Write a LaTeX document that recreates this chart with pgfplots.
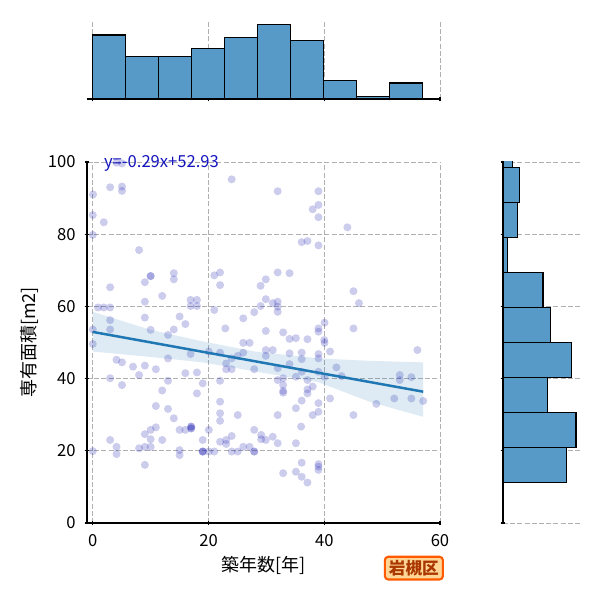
\documentclass[border=0pt]{standalone}
\usepackage{fontspec}
\setmainfont{Noto Sans CJK JP}
\usepackage{pgfplots}
\usepackage{pgfplotstable}
\pgfplotsset{compat=1.18}
\definecolor{histc}{RGB}{87,153,199}
\definecolor{tabblue}{RGB}{31,119,180}
\definecolor{ptc}{RGB}{25,25,175}
\definecolor{gridc}{RGB}{176,176,176}
\definecolor{eqc}{RGB}{20,20,190}
\definecolor{boxfill}{RGB}{255,214,150}
\definecolor{boxdraw}{RGB}{255,90,0}
\definecolor{boxtext}{RGB}{170,55,0}

\pgfplotstableread{
x y
0 85.3
5.05 99.6
4.1 99.8
24.0 95.2
8.0 75.6
9.0 66.7
14.0 69.2
14.0 67.5
12.0 62.9
9.0 61.3
21.0 68.6
22.0 69.4
22.0 65.9
29.9 67.5
29.0 65.7
29.9 62.0
0.9 59.7
1.9 59.7
3.0 59.7
0 53.6
3 56.2
9 56.9
10 53.5
15 57.2
16 55.1
14 53.6
13 52.1
16.9 61.8
18.0 61.8
16.9 60.1
18.0 60.1
21.0 59.0
22.9 53.9
26.0 56.7
31.95 91.9
39.0 91.9
39.0 88.1
38.0 86.9
39.0 84.7
44.0 81.9
36.1 77.8
37.1 78.1
39.0 76.9
34.0 69.2
31.1 60.9
31.95 61.3
31.95 59.9
31.95 58.5
45.05 64.2
46.0 60.9
35.1 51.2
37.1 50.9
39.0 53.9
45.05 53.9
40.0 50.7
4.1 45.2
5.05 44.5
6.95 43.3
9.0 43.6
8.0 41.0
10.9 42.6
13.0 45.6
18.0 41.7
3 40.1
5.05 38.2
13 39.4
12.0 36.7
19.0 38.7
18.0 35.9
22.0 39.4
20.05 47.5
22.0 47.2
23.05 44.2
23.05 42.6
24.0 42.6
25.05 46.3
26.0 47.2
27.1 49.9
26.0 49.9
27.9 42.6
29.9 47.9
29.9 46.3
22.0 30.4
22.0 28.3
25.05 29.9
10.9 32.4
14.0 29.0
9.0 24.6
10 23.2
8.0 20.7
9.0 21.1
12 23.0
3 23.0
4.1 21.1
0 19.9
9 16.1
15.0 25.8
16.0 25.8
15.0 20.2
15.0 18.8
20.05 25.8
20.05 19.8
22.0 22.5
23.05 23.0
23.05 21.9
24.0 24.1
25.05 19.8
27.1 21.1
27.9 25.8
40.05 49.9
31.1 47.9
36.1 47.2
36.1 45.4
39 45.6
41.0 47.5
34.0 44.0
31.95 42.9
43.0 40.7
36.1 41.9
35.1 40.5
40.05 40.5
32.9 40.1
32.9 38.2
32.9 36.1
37.1 39.6
37.1 37.0
37.1 35.9
38.0 37.8
36.1 33.9
39.0 33.2
41.0 34.5
35.1 31.8
38.0 29.9
39.0 30.8
45.05 29.9
36.0 26.7
49.0 33.0
52.1 34.5
57.1 33.8
56.1 47.9
31.1 23.9
31.95 22.1
35.1 22.1
36.1 16.7
32.9 13.8
35.1 14.2
36.1 12.8
39.0 15.6
39.0 14.7
}\ptsA

\pgfplotstableread{
x y
0.05 91.0
0 79.8
1.9 83.3
3.0 93.0
5.05 93.2
5.05 92.0
3.0 65.3
29.0 60.1
27.9 58.4
29.9 53.2
0 49.6
3 53.6
31.95 69.4
32.9 52.8
34.0 51.0
39.0 53.0
40.05 55.5
16.9 46.8
16.0 41.5
24.0 45.6
22.0 33.6
13.0 31.6
10 25.8
10.9 26.5
10 21.1
4.1 19.1
19.0 23.0
21.0 19.8
24.0 19.8
26.0 21.1
29.1 24.4
29.1 23.2
29.9 23.0
34.0 47.0
39.0 46.8
42.1 43.1
39.0 41.9
31.95 39.6
32.9 36.6
31.95 29.9
55.05 34.5
53.05 41.0
53.05 39.6
55.05 40.4
37.1 11.2
39.0 16.3
10.0 68.4
17.0 26.2
17.0 26.7
27.9 19.8
19.0 19.8
}\ptsB

\pgfplotstableread{
x y
10.0 68.4
17.0 26.2
17.0 26.7
27.9 19.8
19.0 19.8
19.0 19.8
}\ptsC

\pgfplotsset{
 jstyle/.style={scale only axis, tick align=outside, major tick length=3.5pt,
   tick style={black,line width=0.8pt},
   grid style={gridc, line width=0.7pt, dash pattern=on 3.6pt off 1.6pt},
   /pgf/number format/assume math mode=true,
   tick label style={font=\fontsize{12}{14}\selectfont},
   label style={font=\fontsize{13}{15}\selectfont}},
 ptstyle/.style={only marks, mark=*, mark size=2.9pt, draw opacity=0, fill=ptc, fill opacity=0.22,
  mark options={draw opacity=0, fill=ptc, fill opacity=0.22}},
}

\begin{document}
\begin{tikzpicture}
\path (0,0) rectangle (433.62pt,433.62pt);
% main joint axis
\begin{axis}[jstyle, at={(62.87pt,55.65pt)}, anchor=south west,
  width=255.11pt, height=260.89pt, xmin=-1, xmax=60, ymin=0, ymax=100,
  axis lines=left, xtick={0,20,40,60}, ytick={0,20,40,60,80,100},
  axis line style={black,line width=0.9pt,-},
  yticklabel style={xshift=-3pt}, xticklabel style={yshift=-3pt},
  grid=major, clip mode=individual,
  xlabel={築年数[年]}, ylabel={専有面積[m2]}]
\addplot[ptstyle] table[x=x,y=y] {\ptsA};
\addplot[ptstyle] table[x=x,y=y] {\ptsB};
\addplot[ptstyle] table[x=x,y=y] {\ptsC};
\addplot[fill=tabblue, fill opacity=0.15, draw=none] coordinates {
 (0,58.5) (10,53.5) (19,50.3) (28,47.5) (39,45.6) (48,44.9) (57.1,44.5)
 (57.1,29.4) (48,33.5) (39,39.0) (28,42.0) (19,44.5) (10,46.0) (0,47.5)} -- cycle;
\addplot[tabblue, line width=1.8pt] coordinates {(0,52.93) (57.1,36.37)};
\node[anchor=base west, inner sep=0pt, text=eqc, font=\fontsize{12}{14}\selectfont] at (axis cs:1.9,98.6) {y=-0.29x+52.93};
\node[draw=boxdraw, fill=boxfill, text=boxtext, line width=1.5pt, rounded corners=2.5pt, inner xsep=3pt, inner ysep=2.5pt, font=\bfseries\fontsize{12}{14}\selectfont] at (rel axis cs:0.926,-0.125) {岩槻区};
\end{axis}
% top marginal histogram
\begin{axis}[jstyle, at={(62.87pt,362.07pt)}, anchor=south west,
  width=255.11pt, height=56.66pt, xmin=-1, xmax=60, ymin=0, ymax=29.4,
  axis x line=bottom, axis y line=none, xtick={0,20,40,60}, xticklabels={},
  axis line style={black,line width=0.9pt,-},
  xmajorgrids, ytick=\empty]
\addplot[ybar interval, fill=histc, draw=black, line width=0.8pt] coordinates {
 (0,24) (5.7,16) (11.4,16) (17.1,19) (22.8,23) (28.5,28) (34.2,22) (39.9,7) (45.6,1) (51.3,6) (57,6)};
\end{axis}
% right marginal histogram
\begin{axis}[jstyle, at={(363.52pt,55.65pt)}, anchor=south west,
  width=55.36pt, height=260.89pt, xmin=0, xmax=32.55, ymin=0, ymax=100,
  axis y line=left, axis x line=none, ytick={0,20,40,60,80,100}, yticklabels={},
  axis line style={black,line width=0.9pt,-},
  ymajorgrids, xtick=\empty]
\addplot[xbar interval, fill=histc, draw=black, line width=0.8pt] coordinates {
 (27,11.2) (31,20.9) (19,30.6) (29,40.3) (20,50.0) (17,59.7) (2,69.4) (6,79.1) (7,88.8) (4,98.5) (4,108.2)};
\end{axis}
\end{tikzpicture}
\end{document}
